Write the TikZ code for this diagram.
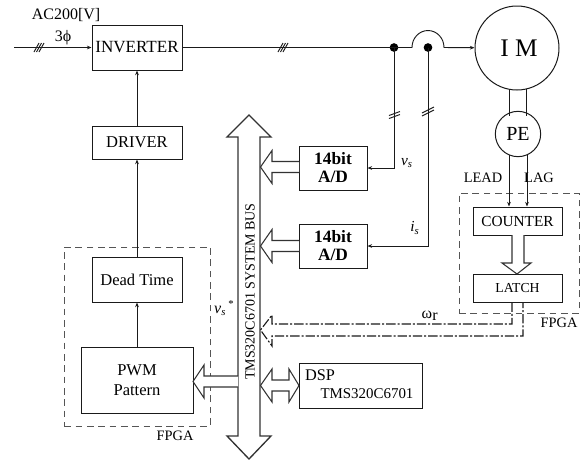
\documentclass[tikz,border=0pt]{standalone}
\usepackage{fontspec}
\setmainfont{Liberation Serif}
\usetikzlibrary{arrows.meta, positioning, calc}
\definecolor{dkline}{HTML}{1A1A1A}
\definecolor{busgray}{HTML}{333333}
\definecolor{fpgagray}{HTML}{555555}

\newcommand{\hollowbus}[5][]{%
  \draw[hollow, #1] (#4,#5-5.5) -- (#3,#5-5.5) -- (#3,#5-16.5) -- (#2,#5)
    -- (#3,#5+16.5) -- (#3,#5+5.5) -- (#4,#5+5.5);}

\tikzset{
  blk/.style={draw=dkline, line width=0.75pt, inner sep=0pt, align=center, font=\fontsize{12.4}{15}\selectfont},
  adblk/.style={blk, minimum width=51pt, minimum height=33pt, font=\fontsize{13}{13.5}\selectfont\bfseries},
  lbl/.style={inner sep=0pt, font=\fontsize{10.8}{13}\selectfont},
  jdot/.style={circle, fill=black, inner sep=0pt, minimum size=6.5pt},
  fpgabox/.style={draw=fpgagray, line width=0.75pt, dash pattern=on 5pt off 3.5pt, inner sep=0pt},
  hollow/.style={draw=busgray, line width=0.8pt, fill=white},
  sig/.style={draw=dkline, line width=0.7pt},
}

\begin{document}
\begin{tikzpicture}[x=0.75pt, y=-0.75pt,
  >={Stealth[length=3.5pt, width=2.8pt]},
]
\useasboundingbox (0,0) rectangle (587,462);

% FPGA outlines
\node[fpgabox, minimum width=109.5pt, minimum height=134.25pt] (fpgaL) at (137.25,336.5) {};
\node[fpgabox, minimum width=90pt, minimum height=90pt] (fpgaR) at (519,253) {};
\node[lbl] (fpgaLtxt) at (175,436) {FPGA};
\node[lbl] (fpgaRtxt) at (559,323) {FPGA};

% Left column
\node[blk, minimum width=67.5pt, minimum height=33.75pt, font=\fontsize{12.8}{15}\selectfont] (inv) at (137,47.5) {INVERTER};
\node[blk, minimum width=67.5pt, minimum height=24.75pt] (drv) at (137,142.5) {DRIVER};
\node[blk, minimum width=67.5pt, minimum height=33.75pt] (dead) at (137,279.5) {Dead Time};
\node[blk, minimum width=84pt, minimum height=50pt] (pwm) at (137,380.5) {PWM\\Pattern};

\draw[sig, ->] (pwm) -- (dead);
\draw[sig, ->] (dead) -- (drv);
\draw[sig, ->] (drv) -- (inv);

% Motor side
\node[draw=dkline, line width=0.75pt, circle, minimum size=63pt, inner sep=0pt,
      font=\fontsize{19}{22}\selectfont] (im) at (517,48) {\hspace{3pt}I M};
\node[draw=dkline, line width=0.75pt, circle, minimum size=34pt, inner sep=0pt,
      font=\fontsize{15}{18}\selectfont, fill=white] (pe) at (518,134) {PE};
\node[blk, minimum width=66.75pt, minimum height=21pt, font=\fontsize{11.5}{14}\selectfont] (cnt) at (517.5,221) {COUNTER};
\node[blk, minimum width=66.75pt, minimum height=21pt, font=\fontsize{10.3}{13}\selectfont] (lat) at (517.5,288) {LATCH};

\draw[sig] (509,89) -- (509,116);
\draw[sig] (526,89) -- (526,116);
\draw[sig, ->] (509,155) -- (cnt.north -| 509,0);
\draw[sig, ->] (527,155) -- (cnt.north -| 527,0);
\node[lbl] (leadtxt) at (483,178) {LEAD};
\node[lbl] (lagtxt) at (539,178) {LAG};

% Main power line
\coordinate (acin) at (14,47.5);
\coordinate (bumpl) at (412,47.5);
\node[jdot] (dotv) at (394,47.5) {};
\node[jdot] (doti) at (428,47.5) {};

\draw[sig, ->] (acin) -- (inv);
\draw[sig, ->] (inv) -- (dotv.center) -- (bumpl)
  arc[start angle=180, end angle=360, x radius=16, y radius=17] -- (im);

\foreach \xc in {39,283} {
  \foreach \dx in {-2.5,0,2.5} {
    \draw[sig] (\xc+\dx-2.5,52) -- (\xc+\dx+2.5,43);
  }
}
\node[lbl, font=\fontsize{12}{14}\selectfont] (ac) at (66,15) {AC200[V]};
\node[lbl, font=\fontsize{12}{14}\selectfont] (phase) at (63,38) {3ϕ};

% A/D converters
\node[adblk] (adv) at (333,168) {14bit\\A/D};
\node[adblk] (adi) at (333,246) {14bit\\A/D};
\draw[sig, ->] (dotv.center) |- (adv);
\draw[sig, ->] (doti.center) |- (adi);
\foreach \dy in {-1.5,1.5} {
  \draw[sig] (389,117+\dy) -- (400,113+\dy);
  \draw[sig] (422,114.5+\dy) -- (434,108.5+\dy);
}
\node[lbl, font=\fontsize{11.5}{14}\selectfont\itshape] (vs) at (407,163) {v\textsubscript{s}};
\node[lbl, font=\fontsize{11.5}{14}\selectfont\itshape] (is) at (415,228) {i\textsubscript{s}};

% DSP
\node[blk, minimum width=92.25pt, minimum height=33.75pt] (dsp) at (360.5,385.5) {};
\node[lbl, font=\fontsize{12.2}{14}\selectfont] (dsptxt) at (320,375.5) {DSP};
\node[lbl, font=\fontsize{11.2}{14}\selectfont] (dsptype) at (367,394) {TMS320C6701};

% System bus
\draw[hollow, line width=1pt] (249,115) -- (271,137) -- (260,137) -- (260,436) -- (271,436)
  -- (249,459) -- (227,436) -- (238,436) -- (238,137) -- (227,137) -- cycle;
\node[lbl, rotate=90, font=\fontsize{10.5}{13}\selectfont] (bus) at (250,291.5) {TMS320C6701 SYSTEM BUS};

% Hollow arrows on the bus
\hollowbus{260.5}{272}{299}{167}
\hollowbus{260.5}{272}{299}{246}
\hollowbus{193}{204}{238}{381.5}
\draw[hollow] (272,380) -- (289,380) -- (289,369) -- (299,385.5) -- (289,402) -- (289,391) -- (272,391)
  -- (272,402) -- (260.5,385.5) -- (272,369) -- cycle;
\draw[hollow] (512,235) -- (512,263) -- (502,263) -- (517,274) -- (531,263) -- (524,263) -- (524,235);

% Speed feedback
\draw[sig, line width=0.85pt, dash pattern=on 7pt off 1.5pt on 1.5pt off 1.5pt]
  ([xshift=-4.1pt]lat.south) |- (272,324) -- (272,315) -- (260.5,330) -- (272,346) -- (272,336)
  -| ([xshift=4.1pt]lat.south);
\node[lbl, font=\fontsize{12}{14}\selectfont] (wr) at (430,316) {ω\textsubscript{\fontsize{12}{14}\selectfont r}};
\node[lbl, font=\fontsize{12}{14}\selectfont\itshape] (vsref) at (224,308) {v\textsubscript{s}\textsuperscript{\,*}};

\end{tikzpicture}
\end{document}
